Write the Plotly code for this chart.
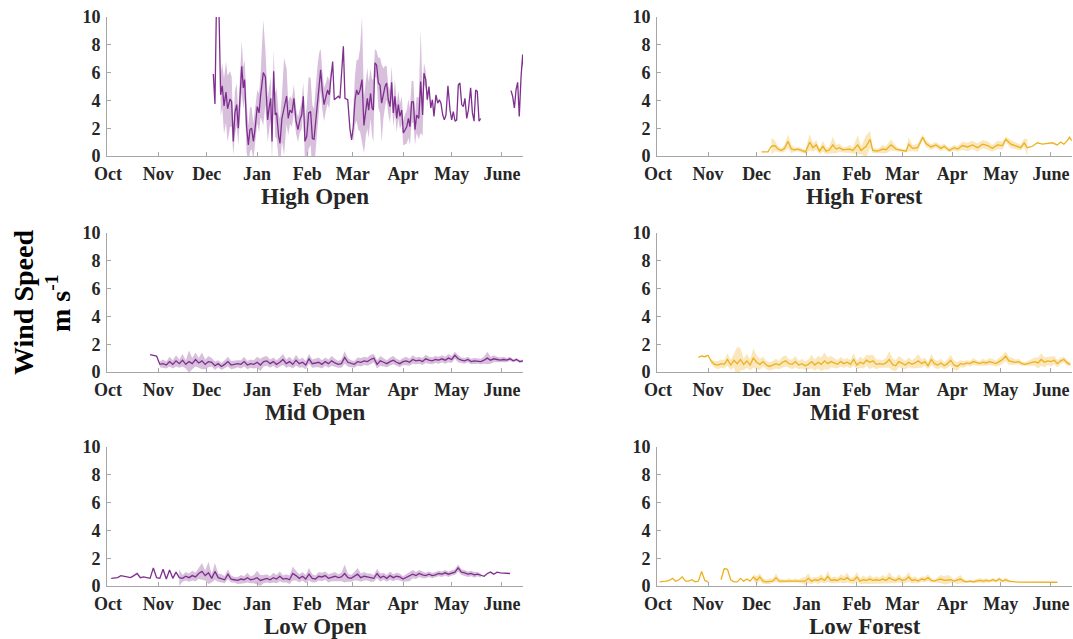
import datetime as dt
import plotly.graph_objects as go

# ---------------- data ----------------
season_start = dt.datetime(2018, 10, 1)
month_ticks = ["2018-10-01", "2018-11-01", "2018-12-01", "2019-01-01", "2019-02-01",
               "2019-03-01", "2019-04-01", "2019-05-01", "2019-06-01"]
month_labels = ["Oct", "Nov", "Dec", "Jan", "Feb", "Mar", "Apr", "May", "June"]
y_ticks = [0, 2, 4, 6, 8, 10]
panel_titles = ["High Open", "High Forest", "Mid Open", "Mid Forest", "Low Open", "Low Forest"]

# High Open (days since 1 Oct)
ho_day = [65.0, 66.0, 67.0, 68.3, 69.5, 70.5, 71.6, 72.8, 73.8, 75.3, 76.3, 77.3, 78.3, 79.4, 80.4,
          81.4, 82.5, 83.5, 84.3, 85.5, 86.6, 87.6, 88.6, 89.7, 90.7, 92.1, 93.2, 94.2, 95.8, 97.1,
          98.5, 99.5, 100.4, 101.2, 102.2, 103.2, 104.0, 105.3, 106.1, 107.3, 108.6, 110.2, 111.2,
          112.3, 113.5, 114.7, 116.0, 117.2, 118.4, 119.5, 120.5, 121.5, 122.6, 123.8, 125.0, 126.1,
          127.1, 128.3, 129.3, 130.4, 131.2, 132.2, 133.3, 134.5, 135.5, 136.5, 137.6, 138.6, 139.6,
          140.7, 142.1, 143.1, 145.2, 146.2, 147.9, 149.3, 150.3, 151.3, 152.4, 153.4, 154.4, 155.5,
          156.7, 157.9, 159.2, 160.0, 160.8, 162.0, 162.9, 163.7, 164.7, 165.7, 166.8, 167.8, 168.8,
          169.9, 170.9, 171.9, 172.9, 174.0, 175.0, 176.0, 177.0, 178.1, 179.1, 180.1, 181.2, 182.2,
          183.2, 184.3, 185.3, 186.3, 187.3, 188.4, 189.4, 190.4, 191.7, 192.9, 194.1, 194.9, 196.0,
          197.0, 198.0, 199.1, 200.1, 201.1, 202.3, 203.4, 204.4, 205.4, 206.5, 207.5, 208.5, 209.7,
          211.0, 212.0, 213.0, 214.1, 215.1, 216.1, 217.1, 218.2, 219.2, 220.2, 221.3, 222.3, 223.7,
          224.8, 225.8, 226.8, 227.8, 228.9, 229.9]
ho_mean = [5.9, 3.75, 11.5, 11.5, 4.4, 5.05, 3.6, 4.6, 3.4, 4.1, 3.9, 1.05, 3.1, 3.7, 2.0,
           4.0, 6.45, 4.9, 5.5, 2.1, 0.8, 1.9, 2.0, 1.05, 1.9, 3.55, 3.1, 4.4, 6.0, 5.7,
           2.6, 3.55, 4.15, 1.05, 6.1, 2.95, 3.1, 1.4, 0.9, 2.7, 3.55, 4.3, 2.7,
           3.3, 3.1, 4.15, 2.5, 1.9, 2.6, 2.95, 4.3, 1.05, 1.4, 3.1, 3.2, 1.25,
           1.2, 2.7, 4.05, 5.5, 6.2, 4.75, 3.7, 4.3, 4.75, 4.4, 5.5, 6.8, 4.05,
           4.15, 4.3, 4.15, 7.9, 4.15, 4.05, 1.9, 1.15, 2.1, 4.05, 4.75, 4.4, 4.75,
           5.5, 2.2, 3.55, 4.15, 3.3, 4.5, 3.45, 3.3, 6.7, 6.55, 5.25, 5.1, 3.8,
           4.5, 5.0, 5.25, 4.05, 3.55, 5.3, 3.1, 4.3, 2.7, 3.7, 2.85, 3.3, 1.65,
           1.9, 2.1, 2.7, 2.1, 3.9, 3.9, 1.9, 2.95, 2.7, 5.35, 2.95, 5.95, 5.5,
           4.05, 5.0, 3.45, 4.05, 2.85, 4.4, 3.8, 4.05, 3.8, 2.95, 2.6, 2.95, 5.05,
           3.3, 2.6, 3.2, 2.5, 2.6, 5.1, 5.25, 3.7, 3.55, 4.15, 2.7, 3.3, 4.9,
           3.1, 2.5, 4.75, 4.65, 2.5, 2.7]
ho_sd = [None, None, None, None, 1.5, 1.6, 2.0, 2.2, 2.4, 2.0, 1.8, 1.0, 1.6, 1.5, 1.2,
         1.5, 1.9, 1.5, 1.4, 1.8, 1.4, 1.6, 1.5, 1.3, 1.3, 1.2, 1.4, 1.6, 3.8, 2.0,
         1.6, 1.6, 1.5, 1.5, 1.5, 1.6, 1.8, 1.6, 1.8, 1.6, 3.5, 2.0, 1.2,
         1.0, 1.0, 1.0, 0.9, 0.9, 0.9, 1.0, 1.0, 1.5, 2.2, 2.6, 2.4, 2.4,
         2.2, 2.5, 2.5, 2.0, 1.5, 1.4, 1.2, 1.0, 1.0, 1.0, 0.8, None, None,
         None, None, None, None, None, None, None, None, 1.2, 1.8, 2.2, 2.5, 3.0,
         4.5, 2.0, 2.0, 2.2, 2.0, 1.8, 2.0, 2.3, 1.0, 1.0, 1.8, 2.0, 2.8,
         1.8, 1.5, 1.2, 1.0, 1.2, 1.2, 1.0, 1.2, 1.0, 1.0, 0.9, 1.0, 0.9,
         1.1, 1.2, 1.4, 1.3, 1.5, 1.5, 1.1, 1.3, 1.5, 3.7, 1.5, 0.8, 0.6,
         0.5, None, None, None, None, None, None, None, None, None, None, None, None,
         None, None, None, None, None, None, None, None, None, None, None, None, None,
         None, None, None, None, None, None]
ho2_day = [248.6, 249.6, 250.7, 251.7, 252.7, 253.7, 254.8, 255.8, 256.8]
ho2_mean = [4.7, 4.3, 3.45, 4.75, 5.3, 2.85, 5.7, 7.3, 5.6]

# High Forest
hf_day = [64.0, 68.0, 70.1, 72.2, 74.2, 76.3, 78.3, 80.4, 82.5, 84.5, 86.6, 88.6, 91.3, 93.8, 95.8,
          97.9, 99.9, 102.0, 104.0, 106.1, 108.1, 110.2, 112.2, 114.3, 116.3, 118.4, 120.5, 123.5,
          125.6, 128.7, 131.2, 132.8, 135.9, 139.0, 141.0, 144.1, 147.2, 150.3, 153.4, 155.0, 157.5,
          160.6, 163.7, 165.7, 168.8, 171.9, 175.0, 177.0, 180.1, 183.2, 185.3, 188.3, 191.4, 194.5,
          197.6, 200.7, 203.8, 206.8, 209.9, 213.0, 215.1, 218.2, 221.2, 224.3, 226.4, 228.4, 231.5,
          234.6, 237.7, 240.8, 243.8, 246.9, 249.0, 251.0, 253.1, 254.5, 255.8]
hf_mean = [0.3, 0.3, 0.7, 0.75, 0.5, 0.4, 0.55, 1.05, 0.5, 0.45, 0.5, 0.4, 0.3, 1.0, 0.6,
           0.8, 0.35, 0.7, 0.35, 0.45, 0.8, 0.5, 0.6, 0.45, 0.45, 0.5, 0.4, 0.8,
           0.4, 0.7, 1.2, 0.4, 0.35, 0.5, 0.45, 0.8, 0.5, 0.4, 0.35, 0.85, 0.55,
           0.6, 1.35, 0.9, 0.65, 0.8, 0.55, 0.7, 0.4, 0.6, 0.5, 0.75, 0.65, 0.8,
           0.6, 0.85, 0.75, 0.55, 0.8, 0.75, 1.2, 0.85, 0.75, 0.6, 0.95, 0.6, 0.7,
           0.95, 0.85, 0.9, 0.95, 0.8, 1.0, 0.85, 1.1, 1.35, 1.1]
hf_sd = [None, None, 0.6, 0.4, 0.2, 0.15, 0.25, 0.5, 0.3, 0.15, 0.15, 0.15, 0.15, 0.6, 0.3,
         0.35, 0.2, 0.4, 0.2, 0.25, 0.6, 0.3, 0.3, 0.2, 0.2, 0.3, 0.2, 0.7,
         0.3, 0.8, 0.6, 0.2, 0.15, 0.3, 0.25, 0.4, 0.2, 0.1, 0.1, 0.5, 0.2,
         0.3, 0.2, 0.25, 0.2, 0.2, 0.2, 0.2, 0.15, 0.2, 0.2, 0.3, 0.3, 0.3,
         0.3, 0.3, 0.3, 0.25, 0.3, 0.3, 0.2, 0.3, 0.25, 0.2, 0.3, 0.6, None,
         None, None, None, None, None, None, None, None, None, None]

# Mid Open (every 2 days from day 26)
mo_first_day = 26
mo_mean = [1.25, 1.2, 1.15, 0.55, 0.6, 0.5, 0.75, 0.55, 0.8, 0.6, 0.85, 0.55, 0.75, 0.6, 0.9,
           0.65, 0.8, 0.55, 0.75, 0.7, 0.45, 0.6, 0.4, 0.55, 0.75, 0.5, 0.55, 0.6, 0.55, 0.75,
           0.5, 0.6, 0.55, 0.7, 0.5, 0.75, 0.8, 0.6, 0.75, 0.55, 0.7, 0.9, 0.6, 0.75, 0.55,
           0.85, 0.6, 0.7, 0.5, 0.95, 0.6, 0.65, 0.7, 0.55, 0.75, 0.6, 0.8, 0.65, 0.55, 0.6,
           1.05, 0.7, 0.6, 0.55, 0.75, 0.7, 0.8, 0.75, 0.9, 1.0, 0.55, 0.8, 0.7, 0.6, 0.75,
           0.85, 0.7, 0.6, 0.75, 0.8, 0.7, 0.9, 0.8, 0.85, 0.75, 0.95, 0.85, 0.8, 0.9, 0.85,
           0.95, 0.85, 1.0, 0.9, 1.2, 0.95, 0.85, 0.8, 0.9, 0.75, 0.8, 0.8, 0.75, 0.85, 1.0,
           0.85, 0.95, 0.9, 0.85, 0.9, 0.85, 0.95, 0.8, 0.9, 0.75, 0.8]
mo_sd = [None, None, None, 0.2, 0.3, 0.25, 0.35, 0.3, 0.4, 0.3, 0.45, 0.3, 0.8, 0.4, 0.5,
         0.35, 0.6, 0.35, 0.4, 0.3, 0.3, 0.25, 0.25, 0.3, 0.35, 0.3, 0.3, 0.25, 0.3, 0.35,
         0.3, 0.3, 0.3, 0.4, 0.45, 0.35, 0.35, 0.3, 0.3, 0.3, 0.35, 0.4, 0.3, 0.35, 0.3,
         0.4, 0.3, 0.35, 0.3, 0.35, 0.3, 0.3, 0.35, 0.3, 0.3, 0.3, 0.35, 0.3, 0.25, 0.3,
         0.45, 0.3, 0.25, 0.25, 0.3, 0.3, 0.3, 0.3, 0.35, 0.3, 0.3, 0.35, 0.3, 0.25, 0.3,
         0.3, 0.25, 0.25, 0.25, 0.3, 0.25, 0.3, 0.25, 0.25, 0.25, 0.3, 0.25, 0.25, 0.25, 0.25,
         0.25, 0.25, 0.3, 0.25, 0.25, 0.25, 0.2, 0.2, 0.2, 0.2, 0.2, 0.2, 0.2, 0.25, 0.45,
         0.25, 0.25, 0.2, 0.2, 0.2, 0.15, 0.15, 0.1, 0.1, 0.1, 0.1]

# Mid Forest (every 2 days from day 25)
mf_first_day = 25
mf_mean = [1.05, 1.15, 1.1, 1.2, 0.75, 0.55, 0.5, 0.6, 0.55, 0.9, 0.5, 0.85, 0.6, 0.9, 0.55,
           0.8, 0.5, 1.0, 0.7, 0.55, 0.75, 0.5, 0.4, 0.5, 0.6, 0.5, 0.7, 0.8, 0.6, 0.55,
           0.75, 0.5, 0.6, 0.45, 0.55, 0.75, 0.5, 0.7, 0.55, 0.8, 0.6, 0.75, 0.65, 0.55, 0.75,
           0.6, 0.7, 0.55, 0.9, 0.5, 0.7, 0.6, 0.85, 0.7, 0.8, 0.55, 0.6, 0.55, 0.65, 0.9,
           0.55, 0.45, 0.75, 0.6, 0.5, 0.7, 0.55, 0.65, 0.8, 0.6, 0.75, 0.45, 0.9, 0.6, 0.5,
           0.65, 0.45, 0.6, 0.85, 0.5, 0.4, 0.6, 0.55, 0.65, 0.6, 0.75, 0.65, 0.6, 0.7, 0.65,
           0.75, 0.7, 0.6, 0.75, 0.9, 1.15, 0.8, 0.75, 0.7, 0.75, 0.6, 0.55, 0.6, 0.7, 0.75,
           0.65, 0.9, 0.7, 0.8, 0.75, 0.85, 0.6, 0.8, 0.9, 0.65, 0.55]
mf_sd = [None, None, None, None, 0.2, 0.25, 0.3, 0.3, 0.3, 0.45, 0.35, 0.5, 1.2, 0.8, 0.4,
         0.5, 0.4, 0.7, 0.5, 0.4, 0.35, 0.3, 0.3, 0.3, 0.35, 0.3, 0.4, 0.4, 0.3, 0.35,
         0.4, 0.3, 0.35, 0.3, 0.35, 0.5, 0.4, 0.45, 0.5, 0.6, 0.45, 0.4, 0.35, 0.3, 0.35,
         0.3, 0.3, 0.3, 0.45, 0.3, 0.4, 0.35, 0.4, 0.5, 0.45, 0.35, 0.3, 0.3, 0.35, 0.6,
         0.45, 0.4, 0.4, 0.35, 0.3, 0.35, 0.3, 0.35, 0.5, 0.3, 0.3, 0.25, 0.4, 0.3, 0.3,
         0.3, 0.25, 0.3, 0.4, 0.35, 0.3, 0.25, 0.25, 0.2, 0.2, 0.25, 0.2, 0.2, 0.25, 0.2,
         0.25, 0.25, 0.2, 0.3, 0.3, 0.35, 0.3, 0.25, 0.2, 0.2, 0.15, 0.15, 0.2, 0.25, 0.3,
         0.4, 0.45, 0.35, 0.3, 0.35, 0.3, 0.25, 0.25, 0.2, 0.2, 0.15]

# Low Open (every 2 days from day 2)
lo_first_day = 2
lo_mean = [0.55, 0.6, 0.6, 0.75, 0.7, 0.7, 0.6, 0.75, 0.9, 0.6, 0.65, 0.6, 0.55, 1.3, 0.6,
           0.55, 1.2, 0.5, 1.15, 0.55, 1.0, 0.6, 0.55, 0.7, 0.6, 0.75, 0.65, 0.9, 1.05, 0.75,
           0.95, 0.55, 1.05, 0.6, 0.55, 0.45, 0.85, 0.5, 0.45, 0.4, 0.5, 0.45, 0.6, 0.45, 0.5,
           0.6, 0.4, 0.5, 0.55, 0.45, 0.6, 0.5, 0.7, 0.5, 0.55, 0.45, 0.9, 0.75, 0.55, 0.7,
           0.5, 0.85, 0.55, 0.5, 0.7, 0.65, 0.75, 0.55, 0.65, 0.7, 0.6, 0.65, 0.9, 0.6, 0.55,
           0.7, 0.85, 0.6, 0.7, 0.65, 0.6, 0.55, 0.9, 0.6, 0.7, 0.55, 0.75, 0.6, 0.7, 0.65,
           0.5, 0.6, 0.7, 0.85, 0.75, 0.9, 0.8, 0.75, 0.85, 0.75, 0.8, 0.9, 0.85, 0.95, 0.85,
           0.95, 1.0, 1.3, 1.0, 0.95, 0.85, 0.9, 0.8, 0.85, 0.75, 0.7, 0.9, 1.0, 0.85, 1.0,
           0.95, 0.95, 0.9, 0.9]
lo_sd = [None, None, None, None, None, None, None, None, None, None, None, None, None, None, None,
         None, None, None, None, None, None, 0.6, 0.25, 0.3, 0.3, 0.35, 0.3, 0.4, 0.6, 0.35,
         0.8, 0.3, 0.6, 0.3, 0.3, 0.25, 0.35, 0.25, 0.2, 0.25, 0.3, 0.25, 0.35, 0.25, 0.3,
         0.5, 0.4, 0.3, 0.3, 0.25, 0.35, 0.3, 0.35, 0.25, 0.3, 0.3, 0.5, 0.35, 0.3, 0.3,
         0.3, 0.45, 0.3, 0.25, 0.3, 0.3, 0.3, 0.3, 0.3, 0.3, 0.25, 0.3, 0.65, 0.3, 0.25,
         0.3, 0.45, 0.3, 0.3, 0.25, 0.3, 0.25, 0.35, 0.3, 0.25, 0.25, 0.3, 0.25, 0.25, 0.25,
         0.2, 0.25, 0.35, 0.3, 0.25, 0.25, 0.25, 0.2, 0.2, 0.2, 0.2, 0.2, 0.2, 0.2, 0.2,
         0.2, 0.2, 0.25, 0.2, 0.2, 0.2, 0.2, 0.2, 0.15, 0.15, None, None, None, None, None,
         None, None, None, None]

# Low Forest (every 2 days; two runs of data)
lf1_first_day = 1
lf1_mean = [0.3, 0.3, 0.35, 0.4, 0.55, 0.35, 0.45, 0.65, 0.35, 0.35, 0.45, 0.3, 0.35, 1.05, 0.4, 0.3]
lf2_first_day = 39
lf2_mean = [0.45, 1.25, 1.2, 0.45, 0.3, 0.3, 0.55, 0.35, 0.5, 0.35, 0.65, 0.4, 0.65, 0.35, 0.3,
            0.35, 0.35, 0.6, 0.35, 0.35, 0.35, 0.4, 0.35, 0.4, 0.35, 0.4, 0.35, 0.55, 0.35, 0.45,
            0.4, 0.55, 0.4, 0.7, 0.4, 0.45, 0.4, 0.55, 0.45, 0.6, 0.4, 0.4, 0.65, 0.35, 0.45,
            0.4, 0.5, 0.4, 0.45, 0.4, 0.5, 0.4, 0.6, 0.45, 0.4, 0.55, 0.4, 0.45, 0.65, 0.4,
            0.45, 0.35, 0.5, 0.45, 0.6, 0.4, 0.35, 0.45, 0.5, 0.4, 0.45, 0.45, 0.35, 0.4, 0.5,
            0.35, 0.3, 0.35, 0.3, 0.35, 0.4, 0.35, 0.4, 0.35, 0.45, 0.35, 0.5, 0.35, 0.45, 0.35,
            0.3, 0.3, 0.28, 0.28, 0.28, 0.28, 0.27, 0.27, 0.28, 0.27, 0.27, 0.26, 0.27, 0.27, 0.27]
lf2_sd = [None, None, None, None, None, None, None, None, None, None, 0.2, 0.3, 0.25, 0.2, 0.15,
          0.2, 0.15, 0.3, 0.15, 0.1, 0.1, 0.15, 0.1, 0.15, 0.1, 0.2, 0.3, 0.35, 0.2, 0.2,
          0.25, 0.3, 0.2, 0.4, 0.2, 0.25, 0.2, 0.3, 0.25, 0.35, 0.2, 0.25, 0.35, 0.2, 0.3,
          0.2, 0.3, 0.2, 0.25, 0.2, 0.3, 0.25, 0.4, 0.25, 0.2, 0.3, 0.2, 0.25, 0.35, 0.2,
          0.25, 0.15, 0.2, 0.2, 0.25, 0.15, 0.1, 0.2, 0.3, 0.3, 0.35, 0.25, 0.1, 0.25, 0.3,
          0.15, 0.1, 0.1, 0.1, 0.15, 0.15, 0.15, 0.15, 0.1, 0.15, 0.1, 0.15, 0.1, 0.15, 0.1,
          0.05, None, None, None, None, None, None, None, None, None, None, None, None, None, None]

# ---------------- styling ----------------
PURPLE = "#7E2F8E"
PURPLE_FILL = "rgba(126,47,142,0.30)"
ORANGE = "#EDB120"
ORANGE_FILL = "rgba(237,177,32,0.30)"
AXIS_GRAY = "#a6a6a6"
TEXT = "#262626"
FONT = "Liberation Serif"

W, H = 1073, 639
col_x = [(107, 523), (657, 1072)]
row_y = [(17, 156), (233, 372), (447, 586)]


def to_dates(days):
    return [season_start + dt.timedelta(days=d) for d in days]


def step_days(first, n):
    return [first + 2 * i for i in range(n)]


fig = go.Figure()


def add_series(k, days, mean, sd, line_color, fill_color):
    xa, ya = ("x" if k == 1 else f"x{k}"), ("y" if k == 1 else f"y{k}")
    n = min(len(days), len(mean))
    dates = to_dates(days[:n])
    if sd is not None:
        seg = []
        for i in range(n + 1):
            ok = i < n and i < len(sd) and sd[i] is not None
            if ok:
                seg.append(i)
            elif seg:
                xs = [dates[j] for j in seg] + [dates[j] for j in reversed(seg)]
                ys = [mean[j] + sd[j] for j in seg] + [mean[j] - sd[j] for j in reversed(seg)]
                fig.add_trace(go.Scatter(x=xs, y=ys, fill="toself", fillcolor=fill_color,
                                         line=dict(width=0), mode="lines", hoverinfo="skip",
                                         showlegend=False, xaxis=xa, yaxis=ya))
                seg = []
    fig.add_trace(go.Scatter(x=dates, y=mean[:n], mode="lines",
                             line=dict(color=line_color, width=1.3),
                             showlegend=False, xaxis=xa, yaxis=ya))


add_series(1, ho_day, ho_mean, ho_sd, PURPLE, PURPLE_FILL)
add_series(1, ho2_day, ho2_mean, None, PURPLE, PURPLE_FILL)
add_series(2, hf_day, hf_mean, hf_sd, ORANGE, ORANGE_FILL)
add_series(3, step_days(mo_first_day, len(mo_mean)), mo_mean, mo_sd, PURPLE, PURPLE_FILL)
add_series(4, step_days(mf_first_day, len(mf_mean)), mf_mean, mf_sd, ORANGE, ORANGE_FILL)
add_series(5, step_days(lo_first_day, len(lo_mean)), lo_mean, lo_sd, PURPLE, PURPLE_FILL)
add_series(6, step_days(lf1_first_day, len(lf1_mean)), lf1_mean, None, ORANGE, ORANGE_FILL)
add_series(6, step_days(lf2_first_day, len(lf2_mean)), lf2_mean, lf2_sd, ORANGE, ORANGE_FILL)

x_range = [season_start - dt.timedelta(hours=14), season_start + dt.timedelta(days=256)]
tickfont = dict(family=FONT, size=18, color=TEXT, weight="bold")

layout = dict(width=W, height=H, margin=dict(l=0, r=0, t=0, b=0, autoexpand=False),
              paper_bgcolor="white", plot_bgcolor="white", showlegend=False)
annotations = []
for k in range(1, 7):
    r, c = (k - 1) // 2, (k - 1) % 2
    x0, x1 = col_x[c]
    y0, y1 = row_y[r]
    sx = "" if k == 1 else str(k)
    layout[f"xaxis{sx}"] = dict(
        domain=[x0 / W, x1 / W], anchor=f"y{sx}", type="date", range=x_range,
        tickvals=month_ticks, ticktext=month_labels, ticks="inside", ticklen=4,
        tickcolor=AXIS_GRAY, showline=True, linecolor=AXIS_GRAY, linewidth=1,
        showgrid=False, zeroline=False, tickfont=tickfont, ticklabelstandoff=1,
        automargin=False, ticklabeloverflow="allow")
    layout[f"yaxis{sx}"] = dict(
        domain=[1 - y1 / H, 1 - y0 / H], anchor=f"x{sx}", range=[0, 10],
        tickvals=y_ticks, ticks="inside", ticklen=4, tickcolor=AXIS_GRAY,
        showline=True, linecolor=AXIS_GRAY, linewidth=1, showgrid=False,
        zeroline=False, tickfont=tickfont, ticklabelstandoff=2, automargin=False,
        ticklabeloverflow="allow")
    annotations.append(dict(text=panel_titles[k - 1], xref="paper", yref="paper",
                            x=(x0 + x1) / 2 / W, y=1 - (y1 + 40) / H,
                            xanchor="center", yanchor="middle", showarrow=False,
                            font=dict(family=FONT, size=23, color=TEXT, weight="bold")))

annotations.append(dict(text="Wind Speed", xref="paper", yref="paper",
                        x=23 / W, y=1 - 303 / H, textangle=-90,
                        xanchor="center", yanchor="middle", showarrow=False,
                        font=dict(family=FONT, size=28, color="black", weight="bold")))
annotations.append(dict(text="m s<sup>-1</sup>", xref="paper", yref="paper",
                        x=58 / W, y=1 - 303 / H, textangle=-90,
                        xanchor="center", yanchor="middle", showarrow=False,
                        font=dict(family=FONT, size=28, color="black", weight="bold")))
layout["annotations"] = annotations
fig.update_layout(**layout)

# remove the page's default body margin so the figure fills the 1073x639 window exactly
fig.write_html("out.html", config={"displayModeBar": False},
               post_script="document.body.style.margin='0';document.body.style.overflow='hidden';")
